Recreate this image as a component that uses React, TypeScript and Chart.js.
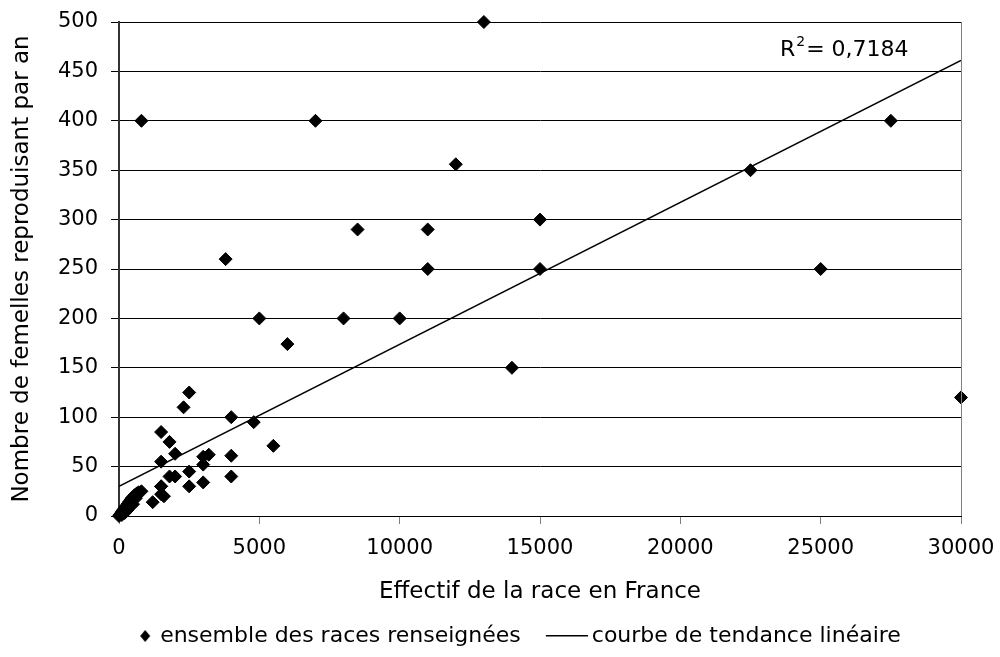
import React, { useEffect, useRef } from 'react';
import { Chart, registerables } from 'chart.js';

Chart.register(...registerables);

// ---- data ----
const effectif = [
  0, 20, 50, 80, 100, 120, 150, 180, 200, 250, 300, 350, 400, 450, 500, 550, 600, 650, 700, 300, 400, 500, 600, 200, 100, 800,
  1200, 1500, 1600, 1500, 2500, 1500, 3000, 1800, 2000, 4000, 2500, 3000, 1500, 3000, 3200, 4000, 2000, 1800, 1500, 5500, 4800,
  4000, 2300, 2500, 6000, 5000, 8000, 10000, 14000, 30000, 3800, 11000, 15000, 25000, 8500, 11000, 15000, 22500, 12000, 800,
  7000, 27500, 13000,
];
const femelles = [
  0, 1, 2, 3, 4, 5, 6, 7, 8, 10, 12, 14, 16, 18, 19, 21, 22, 23, 24, 6, 10, 12, 18, 3, 1, 25,
  14, 22, 20, 30, 30, 30, 34, 40, 40, 40, 45, 52, 55, 60, 62, 61, 63, 75, 85, 71, 95,
  100, 110, 125, 174, 200, 200, 200, 150, 120, 260, 250, 250, 250, 290, 290, 300, 350, 356, 400,
  400, 400, 500,
];
const trendX = [0, 30000];
const trendY = [30, 461];
const xMin = 0;
const xMax = 30000;
const xStep = 5000;
const yMin = 0;
const yMax = 500;
const yStep = 50;
const r2Value = '0,7184';
const r2AnchorX = 23550;
const r2AnchorY = 471;
const seriesLabel = 'ensemble des races renseignées';
const trendLabel = 'courbe de tendance linéaire';
const xTitle = 'Effectif de la race en France';
const yTitle = 'Nombre de femelles reproduisant par an';

const FAMILY = '"DejaVu Sans", sans-serif';
const FS_TICK = 21;
const FS_TITLE = 23;
const FS_LEGEND = 22;

export default function App() {
  const ref = useRef<HTMLCanvasElement>(null);

  useEffect(() => {
    document.body.style.margin = '0';
    if (!ref.current) return;

    const diamondImg = document.createElement('canvas');
    diamondImg.width = 56;
    diamondImg.height = 16;
    {
      const g = diamondImg.getContext('2d')!;
      g.fillStyle = '#000';
      g.beginPath();
      const cx = 49, cy = 8;
      g.moveTo(cx - 5, cy);
      g.lineTo(cx, cy - 6);
      g.lineTo(cx + 5, cy);
      g.lineTo(cx, cy + 6);
      g.closePath();
      g.fill();
    }
    const lineImg = document.createElement('canvas');
    lineImg.width = 64;
    lineImg.height = 4;
    {
      const g = lineImg.getContext('2d')!;
      g.fillStyle = '#000';
      g.fillRect(22, 1, 42, 1.5);
    }

    const extras = {
      id: 'extras',
      afterDatasetsDraw(chart: any) {
        const { ctx, chartArea, scales } = chart;
        ctx.save();
        // right frame border
        ctx.strokeStyle = '#808080';
        ctx.lineWidth = 1;
        ctx.beginPath();
        ctx.moveTo(chartArea.right + 0.5, chartArea.top);
        ctx.lineTo(chartArea.right + 0.5, chartArea.bottom);
        ctx.stroke();
        // R² annotation
        const x = scales.x.getPixelForValue(r2AnchorX);
        const y = scales.y.getPixelForValue(r2AnchorY);
        ctx.fillStyle = '#000';
        ctx.textBaseline = 'middle';
        ctx.textAlign = 'left';
        ctx.font = `22px ${FAMILY}`;
        ctx.fillText('R', x, y);
        const wR = ctx.measureText('R').width;
        ctx.font = `14px ${FAMILY}`;
        ctx.fillText('2', x + wR + 1, y - 8);
        const w2 = ctx.measureText('2').width;
        ctx.font = `22px ${FAMILY}`;
        ctx.fillText('= ' + r2Value, x + wR + w2 + 2, y);
        ctx.restore();
      },
    };

    const tickFont = { family: FAMILY, size: FS_TICK };
    const titleFont = { family: FAMILY, size: FS_TITLE };
    const legendFont = { family: FAMILY, size: FS_LEGEND };

    const chart = new Chart(ref.current, {
      type: 'scatter',
      data: {
        datasets: [
          {
            label: seriesLabel,
            data: effectif.map((x, i) => ({ x, y: femelles[i] })),
            pointStyle: 'rectRot',
            pointRadius: 6.5,
            pointHoverRadius: 6.5,
            backgroundColor: '#000',
            borderColor: '#000',
            borderWidth: 1,
            clip: false,
          } as any,
          {
            label: trendLabel,
            type: 'line',
            data: trendX.map((x, i) => ({ x, y: trendY[i] })),
            borderColor: '#000',
            borderWidth: 1.5,
            pointRadius: 0,
            fill: false,
            showLine: true,
          } as any,
        ],
      },
      options: {
        responsive: false,
        animation: false,
        events: [],
        layout: { padding: { left: 0, right: 0, top: 22, bottom: 0 } },
        plugins: {
          tooltip: { enabled: false },
          legend: {
            position: 'bottom',
            labels: {
              usePointStyle: true,
              pointStyleWidth: 50,
              boxHeight: FS_LEGEND,
              padding: 10,
              color: '#000',
              font: legendFont,
              generateLabels: () => [
                { text: seriesLabel, pointStyle: diamondImg, fillStyle: '#000', strokeStyle: '#000', lineWidth: 0, hidden: false, datasetIndex: 0, fontColor: '#000' } as any,
                { text: trendLabel, pointStyle: lineImg, fillStyle: '#000', strokeStyle: '#000', lineWidth: 0, hidden: false, datasetIndex: 1, fontColor: '#000' } as any,
              ],
            },
          },
        },
        scales: {
          x: {
            type: 'linear',
            min: xMin,
            max: xMax,
            ticks: { stepSize: xStep, font: tickFont, color: '#000', padding: 12, maxRotation: 0, callback: (v: any) => String(v) },
            grid: { drawOnChartArea: false, drawTicks: true, tickLength: 8, color: '#808080' },
            border: { color: '#000', width: 1 },
            title: { display: true, text: xTitle, font: titleFont, color: '#000', padding: { top: 0, bottom: 9 } },
            afterFit: (s: any) => { s.height = 99; s.paddingRight = 39; s.paddingTop = 0; },
          },
          y: {
            min: yMin,
            max: yMax,
            ticks: { stepSize: yStep, font: tickFont, color: '#000', padding: 13, callback: (v: any) => String(v) },
            grid: { color: '#000', tickLength: 8, lineWidth: 1 },
            border: { color: '#333', width: 2 },
            title: { display: true, text: yTitle, font: titleFont, color: '#000', padding: { top: 8, bottom: 0 } },
            afterFit: (s: any) => { s.width = 119; s.paddingTop = 0; s.paddingBottom = 0; },
          },
        },
      },
      plugins: [extras],
    });

    return () => chart.destroy();
  }, []);

  return (
    <div style={{ width: 1000, height: 657, background: '#fff' }}>
      <canvas ref={ref} width={1000} height={657} style={{ display: 'block' }} />
    </div>
  );
}
